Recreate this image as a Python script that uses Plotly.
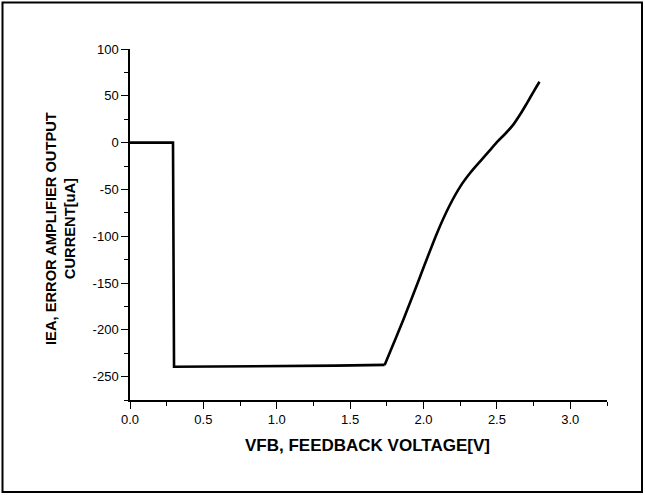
import plotly.graph_objects as go

# Error amplifier output current vs feedback voltage
# flat / step section
vfb_low = [0.0, 0.10, 0.20, 0.293, 0.300, 0.60, 1.00, 1.40, 1.735]
iea_low = [0.0, 0.0, 0.0, 0.0, -239.5, -239.3, -238.8, -238.3, -237.5]
# rising section
vfb_rise = [1.735, 1.80, 1.863, 1.977, 2.091, 2.175, 2.25, 2.32, 2.386,
            2.45, 2.50, 2.56, 2.613, 2.66, 2.704, 2.75, 2.79]
iea_rise = [-237.5, -213.0, -189.0, -143.0, -97.0, -68.0, -47.0, -32.0, -20.0,
            -8.5, 0.5, 10.0, 19.5, 30.5, 42.0, 54.5, 65.0]

x_ticks = [0.0, 0.5, 1.0, 1.5, 2.0, 2.5, 3.0]
y_ticks = [-250, -200, -150, -100, -50, 0, 50, 100]

W, H = 645, 495
ML, MR, MT, MB = 130, 38, 49, 95
PW, PH = W - ML - MR, H - MT - MB


def px_x(p):
    return (p - ML) / PW


def px_y(p):
    return 1 - (p - MT) / PH


fig = go.Figure()
fig.add_trace(go.Scatter(x=vfb_low, y=iea_low, mode="lines",
                         line=dict(color="black", width=2.6),
                         showlegend=False, hoverinfo="skip"))
fig.add_trace(go.Scatter(x=vfb_rise, y=iea_rise, mode="lines",
                         line=dict(color="black", width=2.6, shape="spline", smoothing=0.8),
                         showlegend=False, hoverinfo="skip"))

axis_common = dict(
    showline=True, linecolor="black", linewidth=1.5, mirror=False,
    showgrid=False, zeroline=False,
    ticks="outside", ticklen=7, tickwidth=1.3, tickcolor="black",
    tickfont=dict(family="Liberation Sans, Arial, sans-serif", size=13, color="black"),
)

fig.update_xaxes(range=[0, 3.25], tickvals=x_ticks,
                 ticktext=[f"{v:.1f}" for v in x_ticks],
                 minor=dict(ticks="outside", ticklen=4, tickwidth=1.3,
                            tickcolor="black", dtick=0.25, tick0=0),
                 **axis_common)
fig.update_yaxes(range=[-275, 100], tickvals=y_ticks,
                 ticktext=[str(v) for v in y_ticks],
                 minor=dict(ticks="outside", ticklen=4, tickwidth=1.3,
                            tickcolor="black", dtick=25, tick0=0),
                 **axis_common)

fig.add_annotation(text="<b>VFB, FEEDBACK VOLTAGE[V]</b>", xref="paper", yref="paper",
                   x=px_x(367.5), y=px_y(445), xanchor="center", yanchor="middle",
                   showarrow=False,
                   font=dict(family="Liberation Sans, Arial, sans-serif", size=17, color="black"))
fig.add_annotation(text="<b>IEA, ERROR AMPLIFIER OUTPUT<br>CURRENT[uA]</b>",
                   xref="paper", yref="paper", textangle=-90,
                   x=px_x(61), y=px_y(229), xanchor="center", yanchor="middle",
                   showarrow=False,
                   font=dict(family="Liberation Sans, Arial, sans-serif", size=14.7, color="black"))

# outer frame around the whole figure
fig.add_shape(type="rect", xref="paper", yref="paper",
              x0=px_x(2.5), x1=px_x(642), y0=px_y(492), y1=px_y(2.5),
              line=dict(color="black", width=2))

fig.update_layout(width=W, height=H,
                  margin=dict(l=ML, r=MR, t=MT, b=MB, autoexpand=False),
                  paper_bgcolor="white", plot_bgcolor="white")

fig.write_html("out.html")
